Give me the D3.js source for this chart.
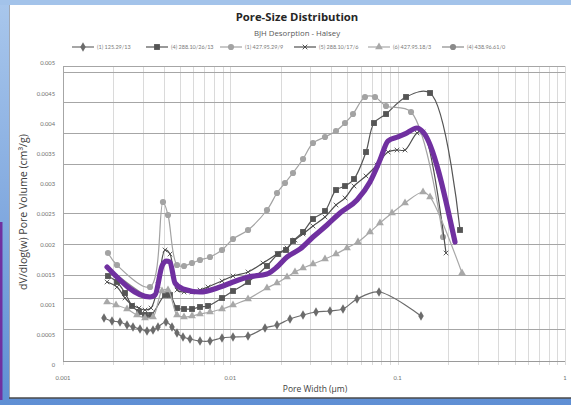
<!DOCTYPE html>
<html><head><meta charset="utf-8">
<script src="https://cdn.jsdelivr.net/npm/d3@7"></script>
<style>html,body{margin:0;padding:0;background:#fff;overflow:hidden} svg{display:block}</style>
</head><body><svg id="c" width="571" height="405"></svg>
<script>
// ---------- data ----------
const titleText = "Pore-Size Distribution";
const subtitleText = "BJH Desorption - Halsey";
const xTitle = "Pore Width (\u00b5m)";
const yTitle = "dV/dlog(w) Pore Volume (cm\u00b3/g)";
const legendNames = ["(1) 125.29/13", "(4) 288.10/26/13", "(1) 427.95.29/9", "(5) 288.10/17/6", "(6) 427.95.18/3", "(4) 438.96.61/0"];
const xTickVals = [0.001, 0.01, 0.1, 1];
const xTickLabels = ["0.001", "0.01", "0.1", "1"];
const yTickVals = [0, 0.0005, 0.001, 0.0015, 0.002, 0.0025, 0.003, 0.0035, 0.004, 0.0045, 0.005];
const yTickLabels = ["0", "0.0005", "0.001", "0.0015", "0.002", "0.0025", "0.003", "0.0035", "0.004", "0.0045", "0.005"];
const yGridVals = [0.00053, 0.00104, 0.00142, 0.00194, 0.00245, 0.00326, 0.00378, 0.00429, 0.00479, 0.00488];

const diamondW = [0.001758,0.001963,0.002191,0.002413,0.002620,0.002885,0.003177,0.003451,0.003696,0.004126,0.004481,0.004801,0.005214,0.005741,0.006587,0.007560,0.008917,0.010374,0.012757,0.016110,0.019007,0.022731,0.027188,0.032509,0.039407,0.047136,0.057148,0.077334,0.137872];
const diamondV = [0.000712,0.000662,0.000646,0.000596,0.000563,0.000530,0.000497,0.000513,0.000563,0.000646,0.000563,0.000464,0.000397,0.000364,0.000331,0.000331,0.000381,0.000397,0.000414,0.000546,0.000596,0.000695,0.000762,0.000811,0.000828,0.000861,0.001026,0.001142,0.000745];

const squareW = [0.001857,0.002102,0.002347,0.002585,0.002846,0.003091,0.003358,0.004070,0.004359,0.004801,0.005287,0.005901,0.006587,0.007355,0.008917,0.010374,0.012757,0.016559,0.019272,0.021509,0.023688,0.027188,0.031189,0.036793,0.042809,0.048455,0.054828,0.064681,0.072197,0.085203,0.112172,0.156086,0.235832];
const squareV = [0.001407,0.001308,0.001126,0.000911,0.000811,0.000762,0.000762,0.001093,0.001093,0.000877,0.000861,0.000861,0.000894,0.000911,0.001043,0.001159,0.001308,0.001573,0.001771,0.001838,0.001987,0.002136,0.002351,0.002483,0.002831,0.002897,0.003013,0.003460,0.003940,0.004089,0.004371,0.004437,0.002169];

const circleW = [0.001857,0.002102,0.003312,0.003959,0.004241,0.004801,0.005287,0.005901,0.006587,0.007560,0.008917,0.010374,0.012757,0.016559,0.019007,0.021214,0.023688,0.027188,0.031189,0.036793,0.042809,0.048455,0.054087,0.063796,0.073197,0.085203,0.120152,0.186628];
const circleV = [0.001788,0.001589,0.001225,0.002632,0.002417,0.001589,0.001573,0.001622,0.001672,0.001722,0.001838,0.002020,0.002169,0.002500,0.002781,0.002947,0.003113,0.003344,0.003609,0.003709,0.003808,0.003940,0.004089,0.004371,0.004371,0.004222,0.004122,0.002053];

const crossW = [0.001833,0.002102,0.002347,0.002585,0.002846,0.003091,0.003358,0.003696,0.004070,0.004359,0.004801,0.005287,0.005901,0.006587,0.007355,0.008917,0.010374,0.012757,0.015671,0.019007,0.021813,0.024349,0.027188,0.031189,0.036793,0.042809,0.048455,0.054828,0.064681,0.075232,0.087579,0.099083,0.110640,0.130497,0.141726,0.194493];
const crossV = [0.001308,0.001225,0.001043,0.000927,0.000877,0.000844,0.000877,0.001258,0.001838,0.001771,0.001175,0.001142,0.001142,0.001175,0.001225,0.001325,0.001407,0.001474,0.001622,0.001771,0.001871,0.002003,0.002103,0.002235,0.002384,0.002583,0.002699,0.002897,0.003063,0.003245,0.003460,0.003493,0.003493,0.003775,0.003791,0.001788];

const triW = [0.001833,0.002074,0.002413,0.002768,0.003091,0.003451,0.003905,0.004241,0.004801,0.005287,0.005901,0.006587,0.007560,0.008917,0.010374,0.012757,0.016559,0.019007,0.021813,0.024349,0.027188,0.031189,0.036793,0.042809,0.049809,0.057943,0.068328,0.078407,0.092533,0.110640,0.141726,0.156086,0.242413];
const triV = [0.000977,0.000927,0.000861,0.000762,0.000712,0.000728,0.001159,0.001175,0.000762,0.000728,0.000745,0.000778,0.000811,0.000861,0.000927,0.001026,0.001209,0.001291,0.001391,0.001474,0.001540,0.001606,0.001689,0.001771,0.001871,0.001970,0.002136,0.002285,0.002450,0.002616,0.002798,0.002716,0.001457];

const purpleW = [0.001833,0.003312,0.003548,0.003905,0.004126,0.004359,0.004670,0.005214,0.006587,0.008676,0.010374,0.012757,0.016559,0.019007,0.021813,0.026086,0.031189,0.037820,0.045232,0.057148,0.068328,0.078407,0.087579,0.100466,0.110640,0.130497,0.141726,0.220139];
const purpleV = [0.001556,0.001060,0.001093,0.001573,0.001656,0.001639,0.001291,0.001192,0.001142,0.001225,0.001308,0.001391,0.001441,0.001556,0.001722,0.001854,0.002053,0.002252,0.002450,0.002666,0.002964,0.003328,0.003643,0.003709,0.003759,0.003858,0.003792,0.001970];

// ---------- drawing ----------
const svg = d3.select("#c");
const defs = svg.append("defs");
const g1 = defs.append("linearGradient").attr("id","bg").attr("x1",0).attr("y1",0).attr("x2",0).attr("y2",1);
g1.append("stop").attr("offset","0%").attr("stop-color","#a9c7ec");
g1.append("stop").attr("offset","100%").attr("stop-color","#5f8fd4");

svg.append("rect").attr("x",0).attr("y",0).attr("width",571).attr("height",405).attr("fill","url(#bg)");
svg.append("rect").attr("x",0).attr("y",0).attr("width",571).attr("height",5).attr("fill","#a3c3ea");
svg.append("rect").attr("x",9).attr("y",5).attr("width",562).attr("height",393).attr("fill","#ffffff");
svg.append("line").attr("x1",9.5).attr("x2",9.5).attr("y1",5).attr("y2",398).attr("stroke","#a0a8b4").attr("stroke-width",1);
svg.append("line").attr("x1",9).attr("x2",571).attr("y1",398).attr("y2",398).attr("stroke","#4a4a4a").attr("stroke-width",1.6);
svg.append("rect").attr("x",0).attr("y",222).attr("width",2.5).attr("height",178).attr("fill","#7030a0");

const xs = d3.scaleLog().domain([0.001, 1]).range([63, 565]);
const ys = d3.scaleLinear().domain([0, 0.005]).range([361, 59]);

// vertical (log) gridlines
const vgrid = [];
[0.001, 0.01, 0.1].forEach(d => { for (let k = 1; k <= 9; k++) vgrid.push(d * k); });
vgrid.push(1);
svg.append("g").selectAll("line").data(vgrid).join("line")
  .attr("x1", d => Math.round(xs(d)) + 0.5).attr("x2", d => Math.round(xs(d)) + 0.5)
  .attr("y1", 66).attr("y2", 365)
  .attr("stroke", "#dadada").attr("stroke-width", 1);

// horizontal gridlines
svg.append("g").selectAll("line").data(yGridVals).join("line")
  .attr("x1", 63).attr("x2", 565)
  .attr("y1", d => Math.round(ys(d)) + 0.5).attr("y2", d => Math.round(ys(d)) + 0.5)
  .attr("stroke", "#a6a6a6").attr("stroke-width", 1);

// axes lines
svg.append("line").attr("x1",63).attr("x2",565).attr("y1",Math.round(ys(0))+0.5).attr("y2",Math.round(ys(0))+0.5).attr("stroke","#9a9a9a");
svg.append("line").attr("x1",63.5).attr("x2",63.5).attr("y1",ys(0.00488)).attr("y2",ys(0)).attr("stroke","#a6a6a6");

// tick labels
svg.append("g").selectAll("text").data(yTickVals).join("text")
  .attr("x", 55).attr("y", d => ys(d) + 5)
  .attr("text-anchor", "end").attr("dominant-baseline", "middle")
  .attr("font-family", "Lato, 'Open Sans', sans-serif").attr("font-size", 5.8).attr("fill", "#707070")
  .text((d, i) => yTickLabels[i]);
svg.append("g").selectAll("text").data(xTickVals).join("text")
  .attr("x", d => xs(d)).attr("y", 380)
  .attr("text-anchor", "middle")
  .attr("font-family", "Lato, 'Open Sans', sans-serif").attr("font-size", 5.8).attr("fill", "#707070")
  .text((d, i) => xTickLabels[i]);

// titles
svg.append("text").attr("x", 297).attr("y", 21).attr("text-anchor","middle")
  .attr("font-family","'Open Sans', sans-serif").attr("font-weight","bold").attr("font-size",11.3).attr("fill","#262626").text(titleText);
svg.append("text").attr("x", 297).attr("y", 36).attr("text-anchor","middle")
  .attr("font-family","'Open Sans', sans-serif").attr("font-size",7.8).attr("fill","#595959").text(subtitleText);
svg.append("text").attr("x", 315).attr("y", 392).attr("text-anchor","middle")
  .attr("font-family","'Open Sans', sans-serif").attr("font-size",8.5).attr("fill","#404040").text(xTitle);
svg.append("text").attr("transform","translate(27,212) rotate(-90)").attr("text-anchor","middle")
  .attr("font-family","'Open Sans', sans-serif").attr("font-size",10.6).attr("fill","#404040").text(yTitle);

// series
const zip = (w, v) => w.map((d, i) => ({w: d, v: v[i]}));
const series = [
  {name: legendNames[0], data: zip(diamondW, diamondV), color: "#6b6b6b", marker: "diamond"},
  {name: legendNames[1], data: zip(squareW, squareV), color: "#555555", marker: "square"},
  {name: legendNames[2], data: zip(circleW, circleV), color: "#a3a3a3", marker: "circle"},
  {name: legendNames[3], data: zip(crossW, crossV), color: "#4f4f4f", marker: "cross"},
  {name: legendNames[4], data: zip(triW, triV), color: "#a8a8a8", marker: "triangle"},
  {name: legendNames[5], data: zip(purpleW, purpleV), color: "#8a8a8a", marker: "circle", hidden: true}
];

function markerPath(type) {
  if (type === "diamond") return d3.symbol(d3.symbolDiamond, 26)();
  if (type === "square") return d3.symbol(d3.symbolSquare, 34)();
  if (type === "circle") return d3.symbol(d3.symbolCircle, 30)();
  if (type === "triangle") return d3.symbol(d3.symbolTriangle, 26)();
  return "M-2.3,-2.3L2.3,2.3M-2.3,2.3L2.3,-2.3";
}

const lineGen = d3.line().x(d => xs(d.w)).y(d => ys(d.v)).curve(d3.curveCatmullRom.alpha(0.5));

series.forEach(s => {
  const g = svg.append("g");
  g.append("path").attr("d", lineGen(s.data)).attr("fill","none").attr("stroke", s.color).attr("stroke-width", 1.2);
  if (s.hidden) return;
  g.selectAll("path.m").data(s.data).join("path").attr("class","m")
    .attr("transform", d => `translate(${xs(d.w)},${ys(d.v)})`)
    .attr("d", markerPath(s.marker))
    .attr("fill", s.marker === "cross" ? "none" : s.color)
    .attr("stroke", s.marker === "cross" ? s.color : "none")
    .attr("stroke-width", 0.9);
});

// purple highlight line
const purpleLine = d3.line().x(d => xs(d.w)).y(d => ys(d.v)).curve(d3.curveMonotoneX);
svg.append("path").attr("d", purpleLine(zip(purpleW, purpleV)))
  .attr("fill","none").attr("stroke","#7030a0").attr("stroke-width",5.2)
  .attr("stroke-linejoin","round").attr("stroke-linecap","round");

// legend
const lg = svg.append("g");
series.forEach((s, i) => {
  const sx = 72 + i * 74, sy = 47;
  lg.append("line").attr("x1", sx).attr("x2", sx + 22).attr("y1", sy).attr("y2", sy).attr("stroke", s.color).attr("stroke-width", 1.2);
  lg.append("path").attr("transform", `translate(${sx + 11},${sy})`).attr("d", markerPath(s.marker))
    .attr("fill", s.marker === "cross" ? "none" : s.color).attr("stroke", s.marker === "cross" ? s.color : "none");
  lg.append("text").attr("x", sx + 25).attr("y", sy + 2).attr("font-family","Lato, sans-serif").attr("font-size", 5.5).attr("fill","#7a7a7a").text(s.name);
});
</script></body></html>
